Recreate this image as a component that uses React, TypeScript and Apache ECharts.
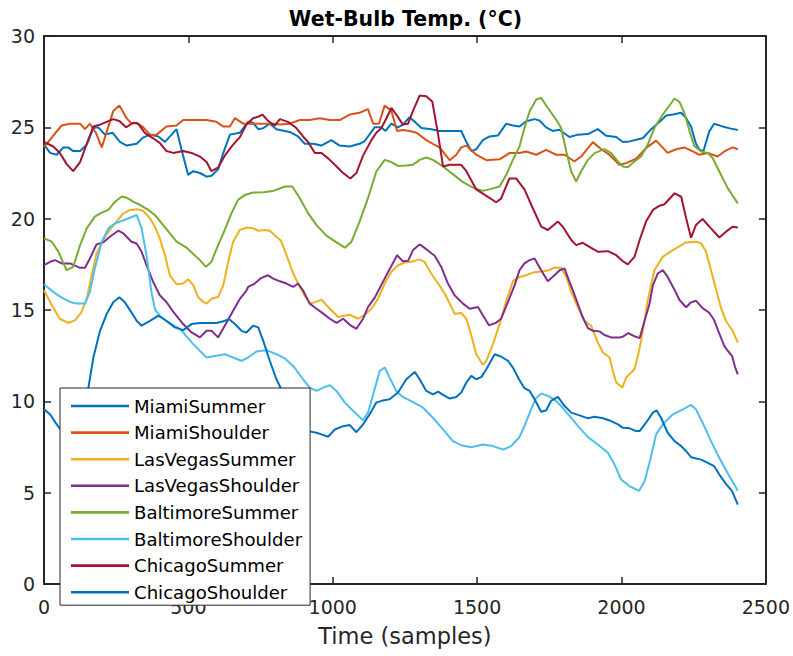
import { useEffect, useRef } from "react";
import * as echarts from "echarts";

// [sample, wet-bulb °C] pairs for each trace
const miamiSummer: [number, number][] = [
  [0, 24.05], [21, 23.6], [44, 23.5], [67, 23.9], [84, 23.9], [101, 23.7], [125, 23.7], [148, 24.05],
  [171, 24.96], [188, 25.0], [211, 24.6], [238, 24.7], [263, 24.2], [286, 24.0], [321, 24.1], [344, 24.45],
  [367, 24.6], [396, 24.5], [419, 24.2], [442, 24.6], [459, 24.9], [476, 23.8], [499, 22.4], [517, 22.6],
  [540, 22.5], [563, 22.3], [580, 22.35], [603, 22.7], [621, 23.6], [644, 24.6], [678, 24.7], [707, 25.3],
  [724, 25.25], [742, 24.9], [759, 24.95], [782, 25.2], [805, 24.9], [834, 24.8], [851, 24.75], [880, 24.5],
  [903, 24.1], [932, 24.1], [961, 24.0], [995, 24.3], [1024, 24.0], [1059, 23.95], [1093, 24.1], [1111, 24.25],
  [1145, 25.0], [1168, 25.0], [1183, 24.8], [1203, 25.2], [1226, 25.0], [1243, 25.15], [1266, 25.55], [1284, 25.3],
  [1307, 24.96], [1341, 24.9], [1370, 24.8], [1405, 24.8], [1445, 24.8], [1463, 24.2], [1480, 23.7], [1497, 23.8],
  [1520, 24.3], [1543, 24.5], [1572, 24.55], [1601, 25.2], [1624, 25.1], [1647, 25.05], [1670, 25.33], [1699, 25.45],
  [1716, 25.37], [1739, 25.0], [1762, 24.8], [1785, 24.87], [1820, 24.47], [1849, 24.6], [1884, 24.63], [1918, 24.9],
  [1947, 24.54], [1982, 24.47], [2005, 24.2], [2028, 24.23], [2051, 24.32], [2074, 24.4], [2103, 24.9], [2132, 25.3],
  [2155, 25.65], [2178, 25.7], [2207, 25.8], [2224, 25.5], [2241, 25.05], [2258, 24.1], [2270, 23.77], [2284, 23.7],
  [2304, 24.78], [2321, 25.2], [2350, 25.05], [2379, 24.93], [2403, 24.85],
];

const miamiShoulder: [number, number][] = [
  [0, 23.9], [30, 24.5], [61, 25.1], [90, 25.2], [125, 25.2], [142, 24.9], [159, 25.2], [180, 24.7],
  [200, 23.9], [240, 25.9], [261, 26.2], [286, 25.5], [303, 25.2], [321, 25.25], [344, 25.0], [367, 24.6],
  [390, 24.6], [424, 25.05], [459, 25.1], [482, 25.4], [563, 25.4], [597, 25.3], [620, 25.05], [644, 25.05],
  [661, 25.5], [690, 25.2], [794, 25.2], [817, 25.15], [851, 25.2], [886, 25.4], [920, 25.4], [955, 25.5],
  [990, 25.4], [1024, 25.4], [1059, 25.7], [1093, 25.8], [1122, 26.0], [1140, 25.2], [1160, 25.2], [1180, 26.2],
  [1203, 25.9], [1223, 24.8], [1243, 24.85], [1266, 24.8], [1290, 24.7], [1324, 24.3], [1347, 24.1], [1370, 23.9],
  [1405, 23.2], [1428, 23.5], [1445, 23.9], [1463, 24.0], [1497, 23.5], [1532, 23.2], [1578, 23.25], [1613, 23.6],
  [1647, 23.6], [1670, 23.68], [1705, 23.5], [1739, 23.77], [1774, 23.5], [1803, 23.5], [1837, 23.13], [1860, 23.4],
  [1901, 24.19], [1930, 23.8], [1958, 23.5], [1993, 22.95], [2016, 23.04], [2051, 23.28], [2085, 23.86], [2120, 24.27],
  [2160, 23.6], [2189, 23.8], [2218, 23.9], [2247, 23.68], [2270, 23.5], [2299, 23.6], [2333, 23.4], [2356, 23.68],
  [2385, 23.9], [2403, 23.8],
];

const lasVegasSummer: [number, number][] = [
  [0, 16.08], [27, 15.26], [55, 14.52], [84, 14.3], [107, 14.43], [130, 14.89], [148, 15.62], [165, 16.9],
  [182, 18.1], [205, 18.83], [228, 19.38], [251, 19.84], [275, 20.29], [298, 20.48], [326, 20.51], [344, 20.42],
  [367, 20.02], [384, 19.56], [401, 18.92], [419, 18.0], [436, 16.9], [459, 16.41], [482, 16.45], [499, 16.68],
  [517, 16.36], [534, 15.71], [551, 15.44], [563, 15.35], [580, 15.62], [603, 15.71], [621, 16.36], [638, 17.64],
  [655, 18.74], [678, 19.38], [701, 19.51], [724, 19.47], [742, 19.34], [765, 19.38], [782, 19.34], [805, 19.01],
  [820, 18.8], [840, 18.0], [863, 17.0], [886, 16.26], [909, 15.62], [925, 15.35], [961, 15.57], [990, 15.07],
  [1019, 14.62], [1036, 14.67], [1059, 14.74], [1088, 14.52], [1111, 14.74], [1134, 15.07], [1157, 15.62], [1180, 16.45],
  [1203, 17.09], [1226, 17.45], [1249, 17.6], [1272, 17.64], [1301, 17.77], [1318, 17.64], [1341, 17.0], [1365, 16.45],
  [1388, 15.9], [1405, 15.35], [1422, 14.8], [1445, 14.84], [1463, 14.5], [1480, 13.6], [1497, 12.58], [1520, 12.0],
  [1532, 12.22], [1555, 13.13], [1578, 14.23], [1601, 15.51], [1625, 16.6], [1647, 16.81], [1670, 16.9], [1693, 17.05],
  [1728, 17.12], [1751, 17.18], [1768, 17.33], [1791, 17.31], [1809, 16.81], [1826, 16.0], [1849, 15.15], [1872, 14.4],
  [1895, 14.14], [1918, 13.22], [1936, 12.67], [1959, 12.4], [1970, 11.67], [1982, 11.03], [2003, 10.75], [2016, 11.3],
  [2028, 11.48], [2045, 11.76], [2057, 12.49], [2068, 13.31], [2080, 14.41], [2091, 15.51], [2114, 17.18], [2143, 17.91],
  [2178, 18.28], [2207, 18.55], [2224, 18.7], [2258, 18.74], [2276, 18.65], [2293, 18.19], [2310, 17.18], [2327, 16.17],
  [2345, 15.1], [2362, 14.4], [2385, 13.86], [2403, 13.22],
];

const lasVegasShoulder: [number, number][] = [
  [0, 17.45], [21, 17.64], [38, 17.73], [61, 17.55], [90, 17.55], [125, 17.31], [142, 17.31], [159, 17.82],
  [182, 18.59], [205, 18.7], [228, 19.01], [257, 19.34], [275, 19.19], [303, 18.74], [321, 18.64], [338, 18.19],
  [355, 17.45], [378, 16.54], [401, 15.81], [424, 15.44], [448, 14.9], [482, 14.23], [511, 13.77], [540, 13.5],
  [563, 13.86], [580, 13.86], [603, 13.5], [626, 14.14], [655, 14.96], [678, 15.6], [701, 16.06], [707, 16.26],
  [730, 16.45], [753, 16.76], [776, 16.9], [794, 16.72], [817, 16.57], [840, 16.45], [863, 16.26], [880, 16.45],
  [897, 16.08], [920, 15.35], [944, 15.07], [967, 14.8], [990, 14.52], [1013, 14.29], [1036, 14.52], [1059, 14.19],
  [1082, 13.97], [1105, 14.52], [1122, 15.16], [1145, 15.66], [1168, 16.36], [1191, 17.05], [1223, 18.0], [1243, 17.67],
  [1261, 17.69], [1278, 18.28], [1301, 18.59], [1324, 18.33], [1353, 17.97], [1376, 17.36], [1399, 16.45], [1422, 15.81],
  [1451, 15.35], [1474, 15.07], [1503, 15.16], [1520, 14.71], [1541, 14.16], [1566, 14.3], [1583, 14.52], [1607, 15.44],
  [1630, 16.36], [1647, 17.18], [1664, 17.55], [1682, 17.73], [1699, 17.82], [1722, 17.18], [1745, 16.57], [1768, 16.9],
  [1786, 17.18], [1803, 17.27], [1820, 16.54], [1832, 16.06], [1849, 15.33], [1866, 14.6], [1884, 14.01], [1901, 13.86],
  [1924, 13.83], [1941, 13.63], [1964, 13.5], [1993, 13.5], [2005, 13.54], [2024, 13.74], [2045, 13.56], [2063, 13.46],
  [2080, 14.41], [2097, 15.33], [2109, 16.36], [2126, 17.0], [2143, 17.18], [2160, 16.81], [2184, 16.1], [2201, 15.55],
  [2224, 15.15], [2241, 15.42], [2258, 15.51], [2281, 15.1], [2304, 14.85], [2321, 14.45], [2339, 13.7], [2356, 13.04],
  [2368, 12.77], [2383, 12.49], [2394, 11.85], [2403, 11.48],
];

const baltimoreSummer: [number, number][] = [
  [0, 18.92], [27, 18.74], [50, 18.19], [78, 17.18], [101, 17.36], [125, 18.55], [148, 19.47], [176, 20.11],
  [200, 20.33], [223, 20.48], [246, 20.93], [269, 21.21], [286, 21.15], [309, 20.93], [332, 20.75], [361, 20.48],
  [384, 20.2], [413, 19.65], [436, 19.19], [459, 18.74], [494, 18.41], [522, 18.0], [540, 17.73], [561, 17.36],
  [580, 17.64], [603, 18.55], [626, 19.38], [649, 20.29], [672, 21.03], [696, 21.3], [724, 21.43], [759, 21.45],
  [794, 21.52], [834, 21.76], [860, 21.76], [886, 21.12], [915, 20.29], [944, 19.65], [978, 19.07], [1013, 18.7],
  [1042, 18.41], [1065, 18.74], [1093, 19.84], [1122, 21.12], [1151, 22.58], [1180, 23.22], [1203, 23.1], [1226, 22.89],
  [1255, 22.91], [1278, 22.95], [1301, 23.22], [1324, 23.35], [1347, 23.22], [1382, 22.86], [1416, 22.44], [1451, 22.0],
  [1486, 21.7], [1520, 21.52], [1549, 21.63], [1578, 21.76], [1601, 22.4], [1624, 23.22], [1647, 23.96], [1664, 24.96],
  [1682, 25.88], [1705, 26.52], [1722, 26.61], [1745, 26.06], [1774, 25.42], [1791, 24.96], [1809, 23.68], [1826, 22.58],
  [1843, 22.03], [1860, 22.58], [1884, 23.22], [1907, 23.59], [1941, 23.81], [1964, 23.59], [1988, 23.13], [2005, 22.86],
  [2022, 22.82], [2045, 23.13], [2068, 23.4], [2091, 24.05], [2114, 24.96], [2143, 25.7], [2160, 26.06], [2184, 26.58],
  [2201, 26.39], [2218, 25.79], [2236, 24.78], [2253, 23.96], [2276, 23.68], [2299, 23.59], [2316, 23.32], [2339, 22.58],
  [2368, 21.67], [2403, 20.84],
];

const baltimoreShoulder: [number, number][] = [
  [0, 16.41], [32, 15.99], [61, 15.68], [90, 15.44], [113, 15.35], [142, 15.35], [159, 15.99], [176, 17.27],
  [200, 18.74], [223, 19.47], [246, 19.74], [269, 19.87], [298, 20.05], [321, 20.2], [338, 19.47], [355, 18.0],
  [372, 16.0], [385, 15.0], [401, 14.69], [430, 14.32], [471, 13.96], [517, 13.13], [563, 12.4], [597, 12.49],
  [626, 12.58], [655, 12.4], [684, 12.22], [707, 12.4], [736, 12.73], [770, 12.8], [805, 12.58], [834, 12.35],
  [863, 11.94], [897, 11.21], [920, 10.75], [944, 10.57], [967, 10.75], [990, 10.88], [1013, 10.57], [1042, 9.93],
  [1071, 9.47], [1105, 8.96], [1122, 9.38], [1140, 10.38], [1163, 11.67], [1180, 11.85], [1197, 11.3], [1220, 10.57],
  [1243, 10.24], [1278, 9.96], [1313, 9.65], [1347, 9.1], [1382, 8.46], [1416, 7.82], [1445, 7.6], [1480, 7.49],
  [1520, 7.64], [1555, 7.55], [1590, 7.36], [1618, 7.55], [1647, 8.05], [1664, 8.65], [1687, 9.56], [1705, 10.2],
  [1722, 10.42], [1745, 10.3], [1768, 10.1], [1791, 9.74], [1820, 9.2], [1855, 8.55], [1884, 8.04], [1918, 7.64],
  [1953, 7.18], [1976, 6.54], [1999, 5.72], [2028, 5.35], [2061, 5.1], [2080, 5.62], [2100, 6.82], [2120, 8.19],
  [2143, 8.74], [2178, 9.29], [2213, 9.56], [2241, 9.8], [2258, 9.56], [2281, 8.83], [2310, 7.82], [2339, 6.9],
  [2374, 5.9], [2403, 5.1],
];

const chicagoSummer: [number, number][] = [
  [0, 24.2], [32, 23.95], [55, 23.6], [78, 23.0], [101, 22.6], [125, 23.1], [148, 24.1], [171, 25.05],
  [194, 25.15], [217, 25.3], [240, 25.45], [261, 25.35], [284, 25.0], [309, 25.25], [326, 25.2], [349, 24.7],
  [378, 24.4], [401, 24.15], [424, 23.7], [448, 23.6], [482, 23.7], [511, 23.6], [540, 23.4], [563, 23.1],
  [580, 22.6], [603, 22.8], [626, 23.45], [655, 24.05], [678, 24.45], [701, 25.15], [724, 25.5], [742, 25.58],
  [757, 25.7], [776, 25.35], [799, 25.1], [817, 25.45], [845, 25.3], [874, 24.96], [897, 24.5], [915, 24.2],
  [938, 23.6], [961, 23.6], [984, 23.3], [1007, 22.95], [1036, 22.5], [1061, 22.2], [1082, 22.5], [1105, 23.45],
  [1134, 24.3], [1151, 24.7], [1168, 24.95], [1186, 25.5], [1203, 26.06], [1220, 25.7], [1243, 25.15], [1261, 25.2],
  [1278, 25.9], [1301, 26.74], [1324, 26.7], [1345, 26.4], [1365, 24.6], [1382, 22.86], [1405, 22.95], [1445, 22.95],
  [1463, 22.6], [1497, 21.6], [1532, 21.25], [1566, 20.9], [1583, 21.1], [1612, 22.2], [1635, 22.2], [1664, 21.6],
  [1693, 20.57], [1722, 19.56], [1745, 19.38], [1780, 19.84], [1797, 19.56], [1826, 18.83], [1843, 18.55], [1866, 18.68],
  [1889, 18.46], [1918, 18.19], [1953, 18.22], [1982, 18.0], [2005, 17.67], [2022, 17.5], [2045, 17.91], [2063, 18.83],
  [2085, 19.84], [2109, 20.48], [2132, 20.71], [2149, 20.79], [2184, 21.39], [2207, 21.2], [2224, 20.02], [2241, 18.96],
  [2258, 19.65], [2281, 19.98], [2310, 19.47], [2339, 18.97], [2362, 19.29], [2385, 19.56], [2403, 19.52],
];

const chicagoShoulder: [number, number][] = [
  [0, 9.56], [21, 9.29], [44, 8.74], [70, 8.2], [100, 8.0], [125, 8.9], [153, 10.66], [171, 12.4],
  [194, 13.86], [217, 14.78], [240, 15.42], [261, 15.7], [280, 15.42], [303, 14.87], [321, 14.41], [338, 14.14],
  [367, 14.41], [396, 14.69], [424, 14.41], [453, 14.05], [482, 13.9], [511, 14.23], [540, 14.29], [597, 14.29],
  [621, 14.38], [641, 14.51], [661, 14.23], [684, 13.86], [701, 13.77], [724, 14.14], [742, 14.05], [759, 13.32],
  [782, 12.22], [805, 11.21], [822, 10.66], [870, 9.5], [915, 8.37], [944, 8.28], [961, 8.19], [984, 8.06],
  [1007, 8.46], [1036, 8.64], [1059, 8.7], [1082, 8.31], [1105, 8.74], [1128, 9.29], [1151, 9.93], [1174, 10.05],
  [1197, 10.11], [1226, 10.48], [1255, 11.21], [1284, 11.61], [1301, 11.21], [1324, 10.57], [1347, 10.38], [1365, 10.53],
  [1382, 10.35], [1405, 10.15], [1428, 10.24], [1445, 10.48], [1463, 11.03], [1480, 11.39], [1497, 11.21], [1515, 11.34],
  [1532, 11.76], [1561, 12.58], [1584, 12.44], [1607, 12.22], [1624, 11.85], [1647, 11.15], [1664, 10.72], [1682, 10.57],
  [1699, 10.11], [1722, 9.43], [1739, 9.5], [1756, 10.02], [1780, 10.24], [1803, 9.74], [1826, 9.38], [1855, 9.23],
  [1884, 9.07], [1907, 9.16], [1936, 9.07], [1964, 8.92], [1988, 8.74], [2005, 8.55], [2028, 8.52], [2051, 8.37],
  [2063, 8.37], [2085, 8.83], [2109, 9.38], [2122, 9.5], [2137, 9.1], [2160, 8.28], [2184, 7.82], [2207, 7.55],
  [2224, 7.27], [2241, 6.94], [2276, 6.81], [2299, 6.63], [2321, 6.45], [2339, 5.99], [2362, 5.48], [2383, 5.08],
  [2403, 4.34],
];

const seriesNames = [
  "MiamiSummer", "MiamiShoulder", "LasVegasSummer", "LasVegasShoulder",
  "BaltimoreSummer", "BaltimoreShoulder", "ChicagoSummer", "ChicagoShoulder",
];
const seriesData = [
  miamiSummer, miamiShoulder, lasVegasSummer, lasVegasShoulder,
  baltimoreSummer, baltimoreShoulder, chicagoSummer, chicagoShoulder,
];
const seriesColors = [
  "#0072BD", "#D95319", "#EDB120", "#7E2F8E", "#77AC30", "#4DBEEE", "#A2142F", "#0072BD",
];

const xRange = [0, 2500];
const xStep = 500;
const yRange = [0, 30];
const yStep = 5;

const FONT = "DejaVu Sans";
const INK = "#262626";

export default function App() {
  const ref = useRef<HTMLDivElement>(null);

  useEffect(() => {
    if (!ref.current) return;
    const chart = echarts.init(ref.current, undefined, { renderer: "svg" });

    const frameLine = { show: true, onZero: false, lineStyle: { color: INK, width: 2 } };
    const frameTick = { show: true, inside: true, length: 7, lineStyle: { color: INK, width: 1.5 } };
    const plainNumber = (v: number) => String(v);

    chart.setOption({
      animation: false,
      backgroundColor: "#ffffff",
      title: {
        text: "Wet-Bulb Temp. (°C)",
        left: 405.5,
        top: 8,
        padding: 0,
        textAlign: "center",
        textStyle: { fontFamily: FONT, fontSize: 20.5, fontWeight: "bold", color: "#000000" },
      },
      grid: { left: 44, right: 26, top: 36, bottom: 72, containLabel: false },
      legend: {
        orient: "vertical",
        left: 60,
        top: 388,
        padding: [7, 8, 2, 11],
        itemGap: 4.6,
        itemWidth: 58,
        itemHeight: 2.6,
        icon: "rect",
        backgroundColor: "#ffffff",
        borderColor: INK,
        borderWidth: 1,
        z: 10,
        data: seriesNames,
        textStyle: { fontFamily: FONT, fontSize: 18.1, lineHeight: 22, color: "#000000" },
      },
      xAxis: [
        {
          type: "value",
          position: "bottom",
          min: xRange[0],
          max: xRange[1],
          interval: xStep,
          name: "Time (samples)",
          nameLocation: "middle",
          nameGap: 40,
          nameTextStyle: { fontFamily: FONT, fontSize: 22.5, color: INK },
          axisLine: frameLine,
          axisTick: frameTick,
          axisLabel: { fontFamily: FONT, fontSize: 19, color: INK, margin: 13, formatter: plainNumber },
          splitLine: { show: false },
        },
        {
          type: "value",
          position: "top",
          min: xRange[0],
          max: xRange[1],
          interval: xStep,
          axisLine: frameLine,
          axisTick: frameTick,
          axisLabel: { show: false },
          splitLine: { show: false },
        },
      ],
      yAxis: [
        {
          type: "value",
          position: "left",
          min: yRange[0],
          max: yRange[1],
          interval: yStep,
          axisLine: frameLine,
          axisTick: frameTick,
          axisLabel: { fontFamily: FONT, fontSize: 19, color: INK, margin: 9, formatter: plainNumber },
          splitLine: { show: false },
        },
        {
          type: "value",
          position: "right",
          min: yRange[0],
          max: yRange[1],
          interval: yStep,
          axisLine: frameLine,
          axisTick: frameTick,
          axisLabel: { show: false },
          splitLine: { show: false },
        },
      ],
      series: seriesNames.map((name, i) => ({
        name,
        type: "line",
        xAxisIndex: 0,
        yAxisIndex: 0,
        data: seriesData[i],
        showSymbol: false,
        symbol: "none",
        color: seriesColors[i],
        lineStyle: { color: seriesColors[i], width: 2 },
        emphasis: { disabled: true },
      })),
    });

    return () => chart.dispose();
  }, []);

  return (
    <div
      ref={ref}
      style={{ position: "absolute", left: 0, top: 0, width: 793, height: 656 }}
    />
  );
}
